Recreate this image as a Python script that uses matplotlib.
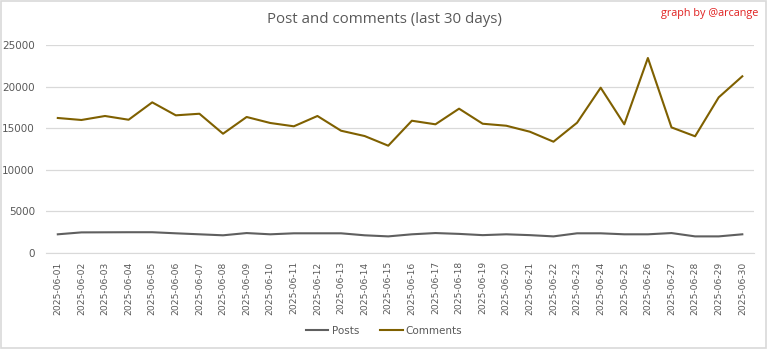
import matplotlib.pyplot as plt
import numpy as np

# daily counts, june 2025
dates = ["2025-06-%02d" % d for d in range(1, 31)]
posts = [2250, 2480, 2490, 2500, 2500, 2370, 2250, 2130, 2400, 2250,
         2370, 2370, 2370, 2130, 2000, 2250, 2400, 2300, 2150, 2250,
         2150, 2000, 2370, 2370, 2250, 2250, 2400, 2000, 2000, 2250]
comments = [16230, 15990, 16470, 16020, 18110, 16550, 16740, 14340, 16350, 15630,
            15230, 16470, 14700, 14060, 12900, 15900, 15470, 17350, 15540, 15300,
            14580, 13380, 15660, 19870, 15470, 23440, 15100, 14030, 18710, 21240]

gray = "#595959"
fig = plt.figure(figsize=(7.68, 3.49), dpi=100)
ax = fig.add_axes([0.0599, 0.275, 0.922, 0.596])

x = np.arange(len(dates))
ax.plot(x, posts, color="#5f5f5f", lw=1.5, label="Posts")
ax.plot(x, comments, color="#7f6000", lw=1.5, label="Comments")

ax.set_xlim(-0.5, len(dates) - 0.5)
ax.set_ylim(0, 25000)
ax.set_yticks(range(0, 25001, 5000))
ax.set_xticks(x)
ax.set_xticklabels(dates, rotation=90, fontsize=6.6, color=gray)
ax.tick_params(axis="y", labelsize=7.5, labelcolor=gray, length=0, pad=8)
ax.tick_params(axis="x", length=0, pad=6)
ax.grid(axis="y", color="#d9d9d9", lw=0.9)
ax.set_axisbelow(True)
for s in ["top", "right", "left"]:
    ax.spines[s].set_visible(False)
ax.spines["bottom"].set_color("#d9d9d9")

fig.text(0.5, 0.943, "Post and comments (last 30 days)", ha="center", va="center",
         fontsize=10.8, color=gray, family="Open Sans")
fig.text(0.987, 0.96, "graph by @arcange", ha="right", va="center",
         fontsize=7.8, color="#e02020", family="Open Sans")

fig.legend(loc="center", bbox_to_anchor=(0.5, 0.052), ncol=2, frameon=False,
           fontsize=7.5, labelcolor=gray, handlelength=2.2, columnspacing=2,
           handletextpad=0.3)

# chart border
fig.add_artist(plt.Rectangle((0.001, 0.002), 0.997, 0.995, transform=fig.transFigure,
                             fill=False, ec="#d9d9d9", lw=1.2))

fig.savefig("out.png", dpi=100)
